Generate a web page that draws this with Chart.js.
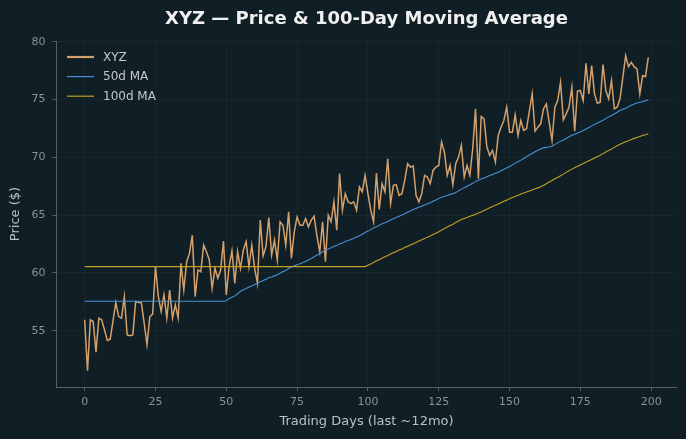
<!DOCTYPE html>
<html><head><meta charset="utf-8">
<script src="https://cdn.jsdelivr.net/npm/chart.js@4.4.1/dist/chart.umd.min.js"></script>
<style>html,body{margin:0;padding:0;background:#101f25;} canvas{display:block;}</style>
</head><body>
<canvas id="c" width="686" height="439"></canvas>
<script>
const chartTitle = 'XYZ — Price & 100-Day Moving Average';
const seriesNames = ['XYZ', '50d MA', '100d MA'];
const xTicks = [0, 25, 50, 75, 100, 125, 150, 175, 200];
const yTicks = [55, 60, 65, 70, 75, 80];

const price = [
55.95, 51.55, 55.95, 55.80, 53.16, 56.09, 55.95, 55.08, 54.16, 54.28,
55.86, 57.44, 56.23, 56.09, 57.96, 54.65, 54.57, 54.65, 57.53, 57.44,
57.44, 55.66, 53.79, 56.23, 56.44, 60.54, 57.96, 56.67, 58.10, 56.09,
58.53, 56.09, 57.24, 56.10, 60.83, 58.53, 60.97, 61.69, 63.27, 57.96,
60.26, 60.11, 62.41, 61.84, 61.12, 58.67, 60.40, 59.54, 60.26, 62.76,
58.10, 60.54, 61.92, 59.11, 61.84, 60.40, 61.98, 62.70, 60.54, 62.41,
60.40, 59.11, 64.57, 61.46, 62.27, 64.80, 61.55, 62.84, 61.12, 64.42,
64.13, 62.41, 65.28, 61.26, 63.56, 64.85, 64.13, 64.13, 64.71, 63.99,
64.57, 64.91, 63.20, 61.84, 64.42, 60.97, 64.99, 64.42, 66.15, 63.70,
68.59, 65.43, 66.86, 66.15, 66.00, 66.15, 65.43, 67.44, 67.01, 68.44,
66.86, 65.43, 64.42, 68.65, 65.50, 67.73, 67.01, 69.88, 66.00, 67.58,
67.64, 66.72, 66.86, 68.01, 69.45, 69.16, 69.25, 66.72, 66.15, 66.86,
68.44, 68.30, 67.73, 68.87, 69.16, 69.30, 71.32, 70.46, 68.44, 69.30,
67.64, 69.45, 70.02, 71.03, 68.30, 69.30, 68.44, 70.74, 74.19, 68.16,
73.53, 73.33, 70.89, 70.17, 70.60, 69.60, 71.89, 72.61, 73.19, 74.34,
72.18, 72.18, 73.68, 71.89, 73.19, 72.33, 72.47, 74.00, 75.49, 72.27,
72.61, 72.90, 74.19, 74.62, 73.04, 71.46, 74.34, 74.91, 76.49, 73.24,
73.76, 74.34, 76.06, 72.27, 75.72, 75.78, 74.91, 78.13, 75.49, 77.93,
75.49, 74.68, 74.77, 78.02, 75.78, 75.06, 76.64, 74.20, 74.34, 75.06,
76.92, 78.79, 77.84, 78.22, 77.84, 77.64, 75.49, 77.07, 76.98, 78.65
];

const ma50 = [
57.56, 57.56, 57.56, 57.56, 57.56, 57.56, 57.56, 57.56, 57.56, 57.56,
57.56, 57.56, 57.56, 57.56, 57.56, 57.56, 57.56, 57.56, 57.56, 57.56,
57.56, 57.56, 57.56, 57.56, 57.56, 57.56, 57.56, 57.56, 57.56, 57.56,
57.56, 57.56, 57.56, 57.56, 57.56, 57.56, 57.56, 57.56, 57.56, 57.56,
57.56, 57.56, 57.56, 57.56, 57.56, 57.56, 57.56, 57.56, 57.56, 57.56,
57.60, 57.78, 57.90, 58.02, 58.20, 58.42, 58.55, 58.66, 58.78, 58.88,
59.00, 59.10, 59.25, 59.35, 59.45, 59.58, 59.66, 59.75, 59.85, 59.97,
60.12, 60.22, 60.38, 60.52, 60.62, 60.72, 60.80, 60.90, 61.00, 61.12,
61.25, 61.40, 61.55, 61.66, 61.84, 61.98, 62.08, 62.18, 62.30, 62.38,
62.52, 62.60, 62.72, 62.80, 62.90, 63.00, 63.12, 63.22, 63.35, 63.50,
63.62, 63.75, 63.88, 64.00, 64.12, 64.25, 64.35, 64.45, 64.58, 64.68,
64.80, 64.90, 65.02, 65.12, 65.25, 65.35, 65.48, 65.58, 65.68, 65.78,
65.88, 65.98, 66.08, 66.20, 66.32, 66.45, 66.55, 66.62, 66.70, 66.78,
66.86, 66.95, 67.10, 67.25, 67.38, 67.50, 67.62, 67.75, 67.90, 68.02,
68.12, 68.22, 68.32, 68.42, 68.52, 68.62, 68.72, 68.84, 68.96, 69.08,
69.20, 69.35, 69.50, 69.62, 69.76, 69.90, 70.05, 70.20, 70.34, 70.48,
70.62, 70.75, 70.82, 70.86, 70.90, 70.96, 71.10, 71.25, 71.38, 71.50,
71.62, 71.78, 71.90, 72.00, 72.10, 72.20, 72.32, 72.45, 72.58, 72.72,
72.85, 72.96, 73.08, 73.20, 73.35, 73.50, 73.62, 73.75, 73.90, 74.05,
74.15, 74.25, 74.38, 74.50, 74.62, 74.70, 74.76, 74.82, 74.90, 74.97
];

const ma100 = [
60.55, 60.55, 60.55, 60.55, 60.55, 60.55, 60.55, 60.55, 60.55, 60.55,
60.55, 60.55, 60.55, 60.55, 60.55, 60.55, 60.55, 60.55, 60.55, 60.55,
60.55, 60.55, 60.55, 60.55, 60.55, 60.55, 60.55, 60.55, 60.55, 60.55,
60.55, 60.55, 60.55, 60.55, 60.55, 60.55, 60.55, 60.55, 60.55, 60.55,
60.55, 60.55, 60.55, 60.55, 60.55, 60.55, 60.55, 60.55, 60.55, 60.55,
60.55, 60.55, 60.55, 60.55, 60.55, 60.55, 60.55, 60.55, 60.55, 60.55,
60.55, 60.55, 60.55, 60.55, 60.55, 60.55, 60.55, 60.55, 60.55, 60.55,
60.55, 60.55, 60.55, 60.55, 60.55, 60.55, 60.55, 60.55, 60.55, 60.55,
60.55, 60.55, 60.55, 60.55, 60.55, 60.55, 60.55, 60.55, 60.55, 60.55,
60.55, 60.55, 60.55, 60.55, 60.55, 60.55, 60.55, 60.55, 60.55, 60.55,
60.66, 60.78, 60.90, 61.05, 61.15, 61.28, 61.40, 61.52, 61.64, 61.76,
61.86, 61.98, 62.08, 62.20, 62.30, 62.42, 62.52, 62.64, 62.76, 62.88,
62.98, 63.10, 63.20, 63.32, 63.44, 63.56, 63.70, 63.84, 63.98, 64.10,
64.22, 64.36, 64.50, 64.62, 64.72, 64.80, 64.90, 64.98, 65.08, 65.18,
65.28, 65.40, 65.52, 65.64, 65.74, 65.86, 65.96, 66.08, 66.20, 66.30,
66.42, 66.52, 66.62, 66.72, 66.82, 66.92, 67.00, 67.08, 67.18, 67.28,
67.36, 67.46, 67.58, 67.72, 67.86, 68.00, 68.14, 68.26, 68.40, 68.55,
68.70, 68.84, 68.98, 69.10, 69.22, 69.34, 69.46, 69.58, 69.70, 69.82,
69.94, 70.06, 70.18, 70.32, 70.46, 70.60, 70.72, 70.86, 71.00, 71.14,
71.24, 71.34, 71.44, 71.54, 71.64, 71.72, 71.80, 71.88, 71.96, 72.04
];

const BG = '#101f25';
const FONT = '"DejaVu Sans", "Liberation Sans", sans-serif';
const toPts = arr => arr.map((v, i) => ({ x: i, y: v }));

const bgPlugin = {
  id: 'bg',
  beforeDraw(chart) {
    const ctx = chart.ctx;
    ctx.save();
    ctx.fillStyle = BG;
    ctx.fillRect(0, 0, chart.width, chart.height);
    ctx.restore();
  }
};

// Title centred over the plotting area (as in the reference)
const axesTitlePlugin = {
  id: 'axesTitle',
  afterDraw(chart) {
    const ctx = chart.ctx;
    const a = chart.chartArea;
    ctx.save();
    ctx.fillStyle = '#f0f0f0';
    ctx.font = 'bold 18px ' + FONT;
    ctx.textAlign = 'center';
    ctx.textBaseline = 'alphabetic';
    ctx.fillText(chartTitle, (a.left + a.right) / 2, a.top - 16.7);
    ctx.restore();
  }
};

const legendPlugin = {
  id: 'innerLegend',
  afterDraw(chart) {
    const ctx = chart.ctx;
    const a = chart.chartArea;
    const x0 = a.left + 10.5, y0 = a.top + 16, gap = 19.6;
    chart.data.datasets.forEach((ds, i) => {
      const y = y0 + i * gap;
      ctx.save();
      ctx.strokeStyle = ds.borderColor;
      ctx.lineWidth = ds.legendLineWidth;
      ctx.beginPath();
      ctx.moveTo(x0, y);
      ctx.lineTo(x0 + 27, y);
      ctx.stroke();
      ctx.fillStyle = '#c4c9cc';
      ctx.font = '12px ' + FONT;
      ctx.textBaseline = 'middle';
      ctx.textAlign = 'left';
      ctx.fillText(ds.label, x0 + 36, y + 0.5);
      ctx.restore();
    });
  }
};

new Chart(document.getElementById('c'), {
  type: 'line',
  data: {
    datasets: [
      { label: seriesNames[0], data: toPts(price), borderColor: '#d4a06c', borderWidth: 1.5, legendLineWidth: 2.2, pointRadius: 0, order: 3 },
      { label: seriesNames[1], data: toPts(ma50), borderColor: '#4a8fd8', borderWidth: 1.1, legendLineWidth: 1.2, pointRadius: 0, order: 2 },
      { label: seriesNames[2], data: toPts(ma100), borderColor: '#c2a020', borderWidth: 1.1, legendLineWidth: 1.2, pointRadius: 0, order: 1 }
    ]
  },
  options: {
    responsive: false,
    animation: false,
    devicePixelRatio: 1,
    layout: { padding: { left: 0, right: 9.5, top: 41, bottom: 0 } },
    elements: { line: { tension: 0 }, point: { radius: 0 } },
    plugins: {
      legend: { display: false },
      tooltip: { enabled: false },
      title: { display: false }
    },
    scales: {
      x: {
        type: 'linear', min: -9.95, max: 208.95,
        afterBuildTicks(s) { s.ticks = xTicks.map(v => ({ value: v })); },
        afterFit(s) { s.height = 52; },
        grid: { color: 'rgba(255,255,255,0.035)', tickColor: '#56616a', tickLength: 4, drawTicks: true },
        border: { display: true, color: '#56616a', width: 1 },
        ticks: { color: '#8a9397', font: { family: FONT, size: 11 }, padding: 5, maxRotation: 0, autoSkip: false },
        title: { display: true, text: 'Trading Days (last ~12mo)', color: '#b8c0c4', font: { family: FONT, size: 13 }, padding: { top: 0, bottom: 10 } }
      },
      y: {
        min: 50.14, max: 80.06,
        afterBuildTicks(s) { s.ticks = yTicks.map(v => ({ value: v })); },
        afterFit(s) { s.width = 56.5; },
        grid: { color: 'rgba(255,255,255,0.035)', tickColor: '#56616a', tickLength: 4, drawTicks: true },
        border: { display: true, color: '#56616a', width: 1 },
        ticks: { color: '#8a9397', font: { family: FONT, size: 11 }, padding: 7 },
        title: { display: true, text: 'Price ($)', color: '#b8c0c4', font: { family: FONT, size: 13 }, padding: { top: 8, bottom: 0 } }
      }
    }
  },
  plugins: [bgPlugin, axesTitlePlugin, legendPlugin]
});
</script>
</body></html>
